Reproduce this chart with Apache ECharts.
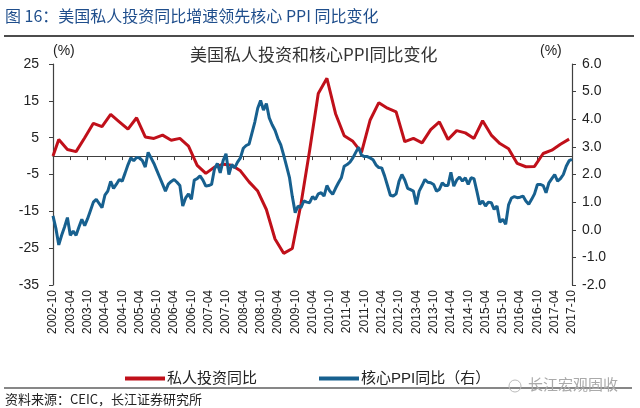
<!DOCTYPE html>
<html>
<head>
<meta charset="utf-8">
<script src="https://cdn.jsdelivr.net/npm/echarts@6/dist/echarts.min.js"></script>
<style>
html,body{margin:0;padding:0;background:#fff;}
#chart{width:640px;height:408px;}
</style>
</head>
<body>
<div id="chart"></div>
<script>
// ---- data ----
const startYear = 2002, startMonth = 10, endYear = 2017, endMonth = 10;
const categories = [];
for (let y = startYear, m = startMonth; y < endYear || (y === endYear && m <= endMonth); ) {
  categories.push(y + '-' + (m < 10 ? '0' + m : '' + m));
  m++; if (m > 12) { m = 1; y++; }
}

// Private investment YoY (%), quarterly (first point at 2002-10, then quarter-end months)
const redValues = [
  0.0,
  4.5, 1.8, 1.2, 5.0, 8.9, 8.0, 11.3, 9.3, 7.3, 10.4,
  5.2, 4.8, 5.7, 4.3, 4.8, 2.7, -2.5, -4.7, -3.0, -2.2,
  -2.5, -4.0, -7.0, -9.5, -14.5, -22.5, -26.4, -25.1, -13.0, 1.5,
  17.0, 21.1, 11.5, 5.5, 4.0, 1.0, 9.8, 14.5, 13.0, 12.0,
  3.9, 4.8, 3.6, 7.2, 9.3, 4.5, 6.9, 6.3, 4.8, 9.6,
  5.7, 3.4, 2.0, -2.0, -2.9, -2.8, 0.7, 1.6, 3.2, 4.6
];
const redDates = ['2002-10'].concat(categories.filter(c => ['03','06','09','12'].includes(c.slice(5))));

// Core PPI YoY (%), monthly, right axis
const blueValues = [
  0.5, 0.05, -0.55, -0.2, 0.1, 0.44, -0.2, -0.05, -0.2, 0.1,
  0.38, 0.15, 0.4, 0.7, 1.0, 1.1, 0.95, 0.8, 1.25, 1.4,
  1.75, 1.5, 1.65, 1.82, 1.76, 2.05, 2.35, 2.6, 2.5, 2.62,
  2.6, 2.5, 2.27, 2.8, 2.6, 2.4, 2.15, 1.9, 1.65, 1.4,
  1.65, 1.75, 1.82, 1.72, 1.6, 0.86, 1.15, 1.3, 1.1, 1.8,
  1.85, 1.95, 1.8, 1.58, 1.6, 1.64, 2.2, 2.4, 2.06, 2.5,
  2.75, 2.0, 2.36, 2.24, 2.45, 2.6, 2.95, 3.05, 3.1, 3.5,
  3.9, 4.4, 4.68, 4.33, 4.57, 4.05, 3.8, 3.6, 3.3, 3.07,
  2.7, 2.3, 1.9, 1.2, 0.62, 0.86, 0.8, 1.04, 1.0, 0.98,
  1.2, 1.1, 1.3, 1.34, 1.22, 1.6, 1.4, 1.28, 1.5, 1.7,
  1.88, 2.3, 2.36, 2.45, 2.6, 2.8, 2.99, 2.7, 2.65, 2.65,
  2.6, 2.53, 2.35, 2.25, 2.24, 1.95, 1.6, 1.25, 1.22, 1.3,
  1.75, 2.0, 1.8, 1.5, 1.45, 1.4, 0.92, 1.4, 1.6, 1.82,
  1.72, 1.7, 1.64, 1.4, 1.46, 1.7, 1.6, 1.6, 2.08, 1.58,
  1.8, 1.91, 1.76, 1.88, 1.64, 1.88, 1.85, 1.4, 0.92, 1.04,
  0.86, 1.0, 0.98, 0.74, 0.86, 0.27, 0.38, 0.2, 0.9, 1.15,
  1.2, 1.16, 1.18, 1.22, 1.04, 0.92, 1.1, 1.3, 1.64, 1.64,
  1.6, 1.34, 1.7, 1.85, 2.0, 1.76, 1.85, 2.0, 2.3, 2.5,
  2.55
];

const leftTicks = [-35, -25, -15, -5, 5, 15, 25];
const rightTicks = [-2, -1, 0, 1, 2, 3, 4, 5, 6];

const seriesNames = ['私人投资同比', '核心PPI同比（右）'];
const titleText = '图 16：美国私人投资同比增速领先核心 PPI 同比变化';
const chartTitle = '美国私人投资和核心PPI同比变化';
const sourceText = '资料来源：CEIC，长江证券研究所';
const watermark = '长江宏观固收';

// ---- chart ----
const RED = '#c0101a', BLUE = '#17608f', AX = '#404040';
const FONT = '"Liberation Sans", Arial, "Noto Sans CJK SC", sans-serif';
const chart = echarts.init(document.getElementById('chart'));
chart.setOption({
  animation: false,
  backgroundColor: '#fff',
  textStyle: { fontFamily: FONT },
  grid: { left: 53, right: 68, top: 64, bottom: 123, containLabel: false },
  legend: {
    left: 120, top: 366, itemWidth: 40, itemHeight: 4, itemGap: 62, icon: 'rect',
    textStyle: { fontSize: 15, color: '#222', fontFamily: FONT, padding: [0, 0, 0, -3] },
    data: [{ name: seriesNames[0] }, { name: seriesNames[1] }]
  },
  xAxis: [
    {
      type: 'category', data: categories, boundaryGap: false, position: 'bottom',
      axisLine: { show: false, onZero: false }, axisTick: { show: false },
      axisLabel: { interval: 5, rotate: 90, fontSize: 12, color: '#222', margin: 5, fontFamily: FONT },
      splitLine: { show: false }
    },
    {
      type: 'category', data: categories, boundaryGap: false, position: 'bottom',
      axisLine: { show: true, onZero: true, onZeroAxisIndex: 0, lineStyle: { color: AX, width: 1.2 } },
      axisTick: { show: true, interval: 5, length: 4, inside: false, lineStyle: { color: AX } },
      axisLabel: { show: false }, splitLine: { show: false }
    }
  ],
  yAxis: [
    {
      type: 'value', min: -35, max: 25, position: 'left',
      axisLine: { show: true, lineStyle: { color: AX, width: 1.2 } },
      axisTick: { show: true, length: 4, lineStyle: { color: AX }, customValues: leftTicks },
      axisLabel: { fontSize: 14, color: '#222', margin: 14, customValues: leftTicks, fontFamily: FONT },
      splitLine: { show: false }
    },
    {
      type: 'value', min: -2, max: 6, interval: 1, position: 'right',
      axisLine: { show: true, lineStyle: { color: AX, width: 1.2 } },
      axisTick: { show: true, length: 4, lineStyle: { color: AX } },
      axisLabel: { fontSize: 14, color: '#222', margin: 10, formatter: v => v.toFixed(1), fontFamily: FONT },
      splitLine: { show: false }
    }
  ],
  series: [
    {
      name: seriesNames[0], type: 'line', xAxisIndex: 0, yAxisIndex: 0,
      data: redDates.map((d, i) => [d, redValues[i]]),
      showSymbol: false, symbol: 'none', connectNulls: true,
      lineStyle: { color: RED, width: 3 }, itemStyle: { color: RED }, z: 3
    },
    {
      name: seriesNames[1], type: 'line', xAxisIndex: 0, yAxisIndex: 1,
      data: blueValues,
      showSymbol: false, symbol: 'none',
      lineStyle: { color: BLUE, width: 3 }, itemStyle: { color: BLUE }, z: 4
    }
  ],
  graphic: [
    { type: 'text', left: 5, top: 8, style: { text: titleText, fill: '#1f4e8c', font: '16px "Noto Sans CJK SC", sans-serif' } },
    { type: 'line', shape: { x1: 4, y1: 36, x2: 634, y2: 36 }, style: { stroke: '#111', lineWidth: 1.5 } },
    { type: 'text', left: 190, top: 46, style: { text: chartTitle, fill: '#333', font: '17px "Noto Sans CJK SC", sans-serif' } },
    { type: 'text', left: 53, top: 44, style: { text: '(%)', fill: '#222', font: '14px "Liberation Sans", Arial, sans-serif' } },
    { type: 'text', left: 540, top: 44, style: { text: '(%)', fill: '#222', font: '14px "Liberation Sans", Arial, sans-serif' } },
    { type: 'line', shape: { x1: 4, y1: 388, x2: 632, y2: 388 }, style: { stroke: '#111', lineWidth: 1.2 } },
    { type: 'text', left: 5, top: 393, style: { text: sourceText, fill: '#222', font: '13px "Noto Sans CJK SC", sans-serif' } },
    { type: 'circle', shape: { cx: 515, cy: 386, r: 6 }, style: { fill: 'none', stroke: '#bbb', lineWidth: 1 } },
    { type: 'text', left: 528, top: 377, style: { text: watermark, fill: '#aaa', font: '15px "Noto Sans CJK SC", sans-serif' } }
  ]
});
</script>
</body>
</html>
